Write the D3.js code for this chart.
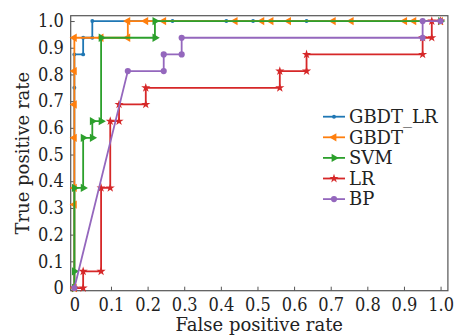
<!DOCTYPE html>
<html>
<head>
<meta charset="utf-8">
<script src="https://cdn.jsdelivr.net/npm/d3@7"></script>
<style>
  body { margin: 0; background: #fff; }
  text { font-family: "DejaVu Serif", serif; fill: #222; }
  .tick text { font-family: "DejaVu Serif Condensed", "DejaVu Serif", serif; font-stretch: condensed; }
</style>
</head>
<body>
<div id="content"></div>
<script>
// series names
const names = ["GBDT_LR", "GBDT", "SVM", "LR", "BP"];

// false positive rate / true positive rate, one pair of arrays per model
const gbdtLrFpr = [0, 0, 0, 0.024, 0.024, 0.049, 0.049, 0.268, 0.415, 0.488, 0.634, 1.0];
const gbdtLrTpr = [0, 0.75, 0.875, 0.875, 0.9375, 0.9375, 1, 1, 1, 1, 1, 1];

const gbdtFpr = [0, 0, 0, 0, 0, 0, 0, 0.073, 0.146, 0.146, 0.195, 0.244, 0.439, 0.512, 0.537, 0.585, 0.707, 0.756, 0.902, 0.927, 1.0];
const gbdtTpr = [0, 0.3125, 0.375, 0.5625, 0.6875, 0.8125, 0.9375, 0.9375, 0.9375, 1, 1, 1, 1, 1, 1, 1, 1, 1, 1, 1, 1];

const svmFpr = [0, 0, 0, 0.024, 0.024, 0.049, 0.049, 0.073, 0.073, 0.220, 0.220, 1.0];
const svmTpr = [0, 0.0625, 0.375, 0.375, 0.5625, 0.5625, 0.625, 0.625, 0.9375, 0.9375, 1, 1];

const lrFpr = [0, 0.024, 0.024, 0.073, 0.073, 0.098, 0.098, 0.122, 0.122, 0.195, 0.195, 0.561, 0.561, 0.634, 0.634, 0.951, 0.951, 0.976, 0.976, 1.0];
const lrTpr = [0, 0, 0.0625, 0.0625, 0.375, 0.375, 0.625, 0.625, 0.6875, 0.6875, 0.75, 0.75, 0.8125, 0.8125, 0.875, 0.875, 0.9375, 0.9375, 1, 1];

const bpFpr = [0, 0.146, 0.244, 0.244, 0.293, 0.293, 0.951, 0.951, 1.0];
const bpTpr = [0, 0.8125, 0.8125, 0.875, 0.875, 0.9375, 0.9375, 1, 1];

const tickValues = [0, 0.1, 0.2, 0.3, 0.4, 0.5, 0.6, 0.7, 0.8, 0.9, 1.0];

const colors = ["#1f77b4", "#ff7f0e", "#2ca02c", "#d62728", "#9467bd"];

const series = [
  {name: names[0], fpr: gbdtLrFpr, tpr: gbdtLrTpr, sym: d3.symbolCircle, size: 12, rot: 0},
  {name: names[1], fpr: gbdtFpr, tpr: gbdtTpr, sym: d3.symbolTriangle, size: 30, rot: -90},
  {name: names[2], fpr: svmFpr, tpr: svmTpr, sym: d3.symbolTriangle, size: 30, rot: 90},
  {name: names[3], fpr: lrFpr, tpr: lrTpr, sym: d3.symbolStar, size: 26, rot: 0},
  {name: names[4], fpr: bpFpr, tpr: bpTpr, sym: d3.symbolCircle, size: 30, rot: 0}
];

const W = 457, H = 335;
const margin = {left: 70.7, top: 15.7, right: 9.1, bottom: 44.3};
const iw = W - margin.left - margin.right;
const ih = H - margin.top - margin.bottom;

const svg = d3.select("#content").append("svg")
  .attr("width", W).attr("height", H);

const g = svg.append("g").attr("transform", `translate(${margin.left},${margin.top})`);

const x = d3.scaleLinear().domain([-0.01, 1.02]).range([0, iw]);
const y = d3.scaleLinear().domain([-0.01, 1.02]).range([ih, 0]);

const fmt = v => v === 0 ? "0" : d3.format(".1f")(v);

// axes, ticks pointing inward
const xAxis = g.append("g").attr("transform", `translate(0,${ih})`)
  .call(d3.axisBottom(x).tickValues(tickValues).tickFormat(fmt).tickSizeInner(-4).tickSizeOuter(0).tickPadding(8));
const yAxis = g.append("g")
  .call(d3.axisLeft(y).tickValues(tickValues).tickFormat(fmt).tickSizeInner(-4).tickSizeOuter(0).tickPadding(7));

[xAxis, yAxis].forEach(a => {
  a.select(".domain").remove();
  a.selectAll(".tick line").attr("stroke", "#555");
  a.selectAll(".tick text").attr("font-size", 18).attr("fill", "#222");
});

// frame
g.append("rect")
  .attr("width", iw).attr("height", ih)
  .attr("fill", "none").attr("stroke", "#555").attr("stroke-width", 1.2);

const line = d3.line().x(d => x(d[0])).y(d => y(d[1]));

series.forEach((s, i) => {
  const pts = s.fpr.map((f, k) => [f, s.tpr[k]]);
  g.append("path")
    .datum(pts)
    .attr("fill", "none")
    .attr("stroke", colors[i])
    .attr("stroke-width", 1.8)
    .attr("d", line);
  g.selectAll(null)
    .data(pts)
    .join("path")
    .attr("d", d3.symbol(s.sym, s.size))
    .attr("transform", d => `translate(${x(d[0])},${y(d[1])}) rotate(${s.rot})`)
    .attr("fill", colors[i]);
});

// legend
const legend = svg.append("g");
series.forEach((s, i) => {
  const ly = 116.7 + i * 20.6;
  legend.append("line")
    .attr("x1", 323).attr("x2", 345).attr("y1", ly).attr("y2", ly)
    .attr("stroke", colors[i]).attr("stroke-width", 1.8);
  legend.append("path")
    .attr("d", d3.symbol(s.sym, s.size))
    .attr("transform", `translate(334,${ly}) rotate(${s.rot})`)
    .attr("fill", colors[i]);
  legend.append("text")
    .attr("x", 349).attr("y", ly).attr("dy", "0.35em")
    .attr("font-size", 18)
    .text(s.name);
});

// axis titles
svg.append("text")
  .attr("x", margin.left + iw / 2).attr("y", 331)
  .attr("text-anchor", "middle").attr("font-size", 18)
  .text("False positive rate");

svg.append("text")
  .attr("transform", `translate(29,${margin.top + ih / 2}) rotate(-90)`)
  .attr("text-anchor", "middle").attr("font-size", 18)
  .text("True positive rate");
</script>
</body>
</html>
